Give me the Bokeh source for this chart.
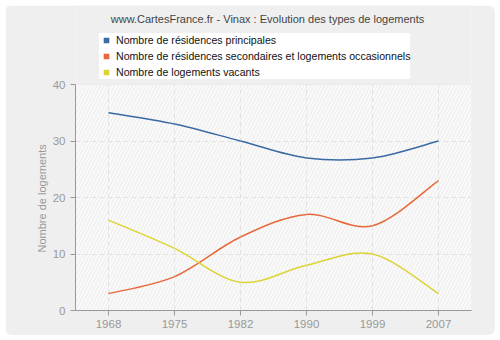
import numpy as np
from bokeh.plotting import figure
from bokeh.models import (ColumnDataSource, Legend, LegendItem, Label, Title,
                          FixedTicker, BoxAnnotation, Range1d)
from bokeh.embed import file_html
from bokeh.resources import INLINE

# ---- data ----
years = ["1968", "1975", "1982", "1990", "1999", "2007"]
principales = [35, 33, 30, 27, 27, 30]
secondaires = [3, 6, 13, 17, 15, 23]
vacants = [16, 11, 5, 8, 10, 3]
series_names = ["Nombre de résidences principales",
                "Nombre de résidences secondaires et logements occasionnels",
                "Nombre de logements vacants"]
colors = ["#3a6aa3", "#e8683a", "#ddd335"]
y_ticks = [0, 10, 20, 30, 40]
title_text = "www.CartesFrance.fr - Vinax : Evolution des types de logements"
y_label = "Nombre de logements"

FONT = "Liberation Sans"
Y_MAX = 40
X_MIN, X_MAX = -0.5, 5.5

# layout (pixels)
W, H = 490, 330
B_LEFT, B_RIGHT, B_BOTTOM = 70, 24, 25
PLOT_H = 226                      # height of the 0..40 plot area
FRAME_H = H - B_BOTTOM            # frame extends up to the top, room for title/legend
y_top = Y_MAX * FRAME_H / PLOT_H

p = figure(width=W, height=H, output_backend="svg", toolbar_location=None,
           x_range=Range1d(X_MIN, X_MAX), y_range=Range1d(0, y_top),
           min_border_left=B_LEFT, min_border_right=B_RIGHT, min_border_top=0,
           min_border_bottom=B_BOTTOM, margin=(5, 5, 5, 5),
           background_fill_color="#efefef", border_fill_color="#efefef",
           outline_line_color=None)
p.styles = {"border-radius": "7px", "overflow": "hidden"}

# plot area background + hatch + light outline
p.add_layout(BoxAnnotation(left=X_MIN, right=X_MAX, bottom=0, top=Y_MAX,
                           fill_color="#fafafa", fill_alpha=1,
                           line_color="#dcdcdc", line_width=1,
                           hatch_pattern="/", hatch_color="#ebebeb", hatch_scale=7,
                           hatch_weight=1, hatch_alpha=1.0, level="image"))

xs = np.arange(len(years), dtype=float)

# vertical grid lines limited to the plot area
p.segment(x0=xs, y0=np.zeros_like(xs), x1=xs, y1=np.full_like(xs, Y_MAX),
          line_color="#e2e2e2", line_dash="5 3", line_width=1, level="underlay")


def catmull_bezier(x, y):
    x = np.asarray(x, float)
    y = np.asarray(y, float)
    xp = np.concatenate([[x[0]], x, [x[-1]]])
    yp = np.concatenate([[y[0]], y, [y[-1]]])
    n = len(x) - 1
    d = dict(x0=[], y0=[], x1=[], y1=[], cx0=[], cy0=[], cx1=[], cy1=[])
    for i in range(n):
        j = i + 1
        d["x0"].append(xp[j]); d["y0"].append(yp[j])
        d["x1"].append(xp[j + 1]); d["y1"].append(yp[j + 1])
        d["cx0"].append(xp[j] + (xp[j + 1] - xp[j - 1]) / 6)
        d["cy0"].append(yp[j] + (yp[j + 1] - yp[j - 1]) / 6)
        d["cx1"].append(xp[j + 1] - (xp[j + 2] - xp[j]) / 6)
        d["cy1"].append(yp[j + 1] - (yp[j + 2] - yp[j]) / 6)
    return ColumnDataSource(d)


items = []
for vals, col, name in zip([principales, secondaires, vacants], colors, series_names):
    p.bezier(x0="x0", y0="y0", x1="x1", y1="y1", cx0="cx0", cy0="cy0",
             cx1="cx1", cy1="cy1", source=catmull_bezier(xs, vals),
             line_color=col, line_width=1.5)
    # zero-size markers: only serve as square legend swatches
    proxy = p.scatter(x=xs, y=vals, size=0, marker="square",
                      fill_color=col, line_color=None)
    items.append(LegendItem(label=name, renderers=[proxy]))

legend = Legend(items=items, location=(24, PLOT_H + 5), orientation="vertical",
                background_fill_color="white", background_fill_alpha=1,
                border_line_color=None,
                padding=3, spacing=2, margin=0,
                glyph_width=14, glyph_height=14, label_height=14,
                label_standoff=3, label_text_font=FONT,
                label_text_font_size="10.6px", label_text_color="#111111")
p.add_layout(legend, "center")

p.add_layout(Label(x=(X_MIN + X_MAX) / 2, y=y_top, x_offset=-6, y_offset=-13,
                   text=title_text, text_font=FONT, text_font_size="11px",
                   text_color="#444444", text_align="center",
                   text_baseline="middle"))

# axes
p.xaxis.ticker = FixedTicker(ticks=list(xs))
p.xaxis.major_label_overrides = {int(i): y for i, y in enumerate(years)}
p.yaxis.ticker = FixedTicker(ticks=y_ticks)
p.yaxis.bounds = (0, Y_MAX)
for ax in (p.xaxis, p.yaxis):
    ax.axis_line_color = "#999999"
    ax.major_tick_line_color = "#999999"
    ax.major_tick_out = 5
    ax.major_tick_in = 0
    ax.minor_tick_line_color = None
    ax.major_label_text_color = "#999999"
    ax.major_label_text_font = FONT
    ax.major_label_text_font_size = "11.5px"
p.xaxis.major_label_standoff = 4
p.yaxis.major_label_standoff = 5

# y axis title, positioned along the 0..40 part of the frame
p.add_layout(Title(text=y_label, align="left", offset=58, standoff=4,
                   text_font=FONT, text_font_size="11px",
                   text_font_style="normal", text_color="#999999"), "left")

p.xgrid.visible = False
p.ygrid.ticker = FixedTicker(ticks=[10, 20, 30])
p.ygrid.grid_line_color = "#e2e2e2"
p.ygrid.grid_line_dash = "5 3"
p.ygrid.grid_line_width = 1

open("out.html", "w").write(file_html(p, INLINE))
